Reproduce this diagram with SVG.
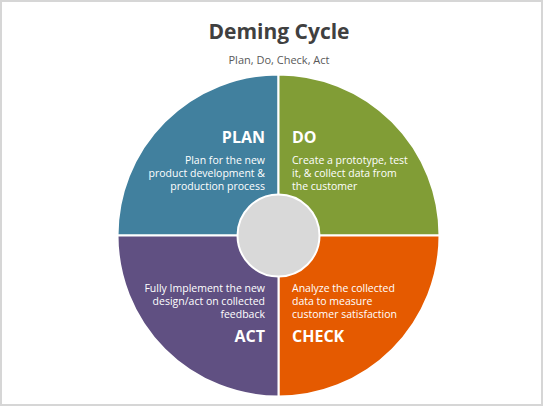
<svg xmlns="http://www.w3.org/2000/svg" width="544" height="408" viewBox="0 0 544 408">
  <style>
    text { font-family: "Open Sans", "Noto Sans", "Liberation Sans", sans-serif; }
    .title { font-size: 21px; font-weight: bold; fill: #404040; }
    .sub { font-size: 11px; fill: #595959; }
    .head { font-size: 16px; font-weight: bold; fill: #ffffff; }
    .body { font-size: 10.5px; fill: #ffffff; }
    .quad { stroke: #ffffff; stroke-width: 2; }
  </style>
  <rect x="1" y="1" width="541" height="404" fill="#ffffff" stroke="#d6d6d6" stroke-width="2"/>
  <text class="title" x="279" y="39" text-anchor="middle">Deming Cycle</text>
  <text class="sub" x="279" y="64" text-anchor="middle">Plan, Do, Check, Act</text>
  <g id="plan">
    <path class="quad" fill="#41809E" d="M278.5,235.5 L117.5,235.5 A161,161 0 0 1 278.5,74.5 Z"/>
    <text class="head" x="265" y="143" text-anchor="end">PLAN</text>
    <text class="body" text-anchor="end"><tspan x="265" y="164">Plan for the new</tspan><tspan x="265" y="177">product development &amp;</tspan><tspan x="265" y="190">production process</tspan></text>
  </g>
  <g id="do">
    <path class="quad" fill="#819D36" d="M278.5,235.5 L278.5,74.5 A161,161 0 0 1 439.5,235.5 Z"/>
    <text class="head" x="292" y="143">DO</text>
    <text class="body"><tspan x="292" y="164">Create a prototype, test</tspan><tspan x="292" y="177">it, &amp; collect data from</tspan><tspan x="292" y="190">the customer</tspan></text>
  </g>
  <g id="check">
    <path class="quad" fill="#E55A00" d="M278.5,235.5 L439.5,235.5 A161,161 0 0 1 278.5,396.5 Z"/>
    <text class="body"><tspan x="292" y="292">Analyze the collected</tspan><tspan x="292" y="305">data to measure</tspan><tspan x="292" y="318">customer satisfaction</tspan></text>
    <text class="head" x="292" y="342">CHECK</text>
  </g>
  <g id="act">
    <path class="quad" fill="#605082" d="M278.5,235.5 L278.5,396.5 A161,161 0 0 1 117.5,235.5 Z"/>
    <text class="body" text-anchor="end"><tspan x="265" y="292">Fully Implement the new</tspan><tspan x="265" y="305">design/act on collected</tspan><tspan x="265" y="318">feedback</tspan></text>
    <text class="head" x="265" y="342" text-anchor="end">ACT</text>
  </g>
  <g id="center">
    <circle cx="278.5" cy="235.5" r="41" fill="#D9D9D9" stroke="#ffffff" stroke-width="2"/>
  </g>
  <g id="connectors"></g>
</svg>
